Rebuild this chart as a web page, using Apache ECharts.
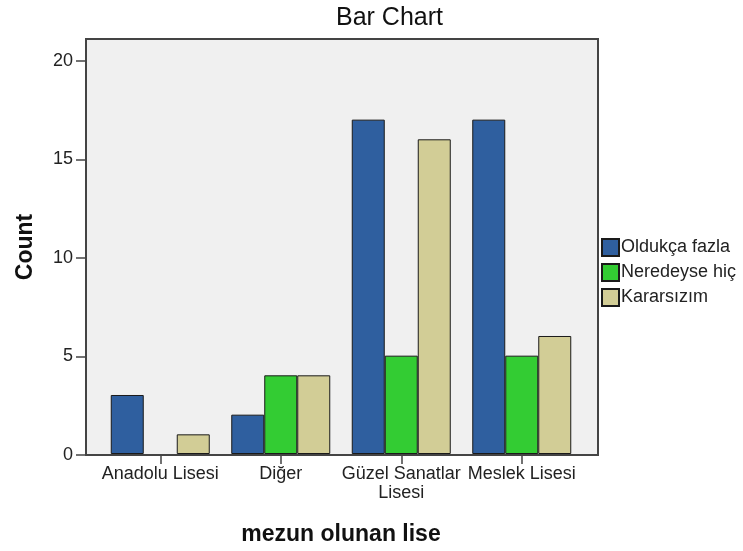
<!DOCTYPE html>
<html>
<head>
<meta charset="utf-8">
<script src="https://cdn.jsdelivr.net/npm/echarts@6/dist/echarts.min.js"></script>
<style>html,body{margin:0;padding:0;background:#fff}#c{width:743px;height:551px}</style>
</head>
<body>
<div id="c"></div>
<script>
const categories = ['Anadolu Lisesi', 'Diğer', 'Güzel Sanatlar\nLisesi', 'Meslek Lisesi'];
const seriesNames = ['Oldukça fazla', 'Neredeyse hiç', 'Kararsızım'];
const oldukcaFazla = [3, 2, 17, 17];
const neredeyseHic = [0, 4, 5, 5];
const kararsizim = [1, 4, 16, 6];
const yTicks = [0, 5, 10, 15, 20];
const colors = ['#2f5f9f', '#33cc33', '#d2cd96'];

const chart = echarts.init(document.getElementById('c'));
const font = 'Arial, "Liberation Sans", sans-serif';
const values = [oldukcaFazla, neredeyseHic, kararsizim];
chart.setOption({
  animation: false,
  backgroundColor: '#ffffff',
  title: {
    text: 'Bar Chart', left: 336, top: 6, padding: 0,
    textStyle: { fontFamily: font, fontSize: 25, fontWeight: 'normal', color: '#111' }
  },
  legend: {
    orient: 'vertical', left: 601, top: 238, padding: 0, itemWidth: 17, itemHeight: 17, itemGap: 6,
    icon: 'rect',
    textStyle: { fontFamily: font, fontSize: 18, color: '#222', padding: [0, 0, 0, -3] },
    data: seriesNames
  },
  grid: [
    { left: 86, right: 145, top: 39, bottom: 96, show: true, backgroundColor: '#f0f0f0', borderColor: '#444', borderWidth: 2 },
    { left: 100, right: 161, top: 39, bottom: 96 }
  ],
  xAxis: [
    { type: 'value', gridIndex: 0, show: false, min: 0, max: 1 },
    {
      type: 'category', gridIndex: 1, data: categories,
      axisLine: { show: false },
      axisTick: { show: true, alignWithLabel: true, length: 10, lineStyle: { color: '#444', width: 1.5 } },
      axisLabel: { fontFamily: font, fontSize: 18, color: '#222', margin: 11, lineHeight: 19, interval: 0 },
      name: 'mezun olunan lise', nameLocation: 'middle', nameGap: 69,
      nameTextStyle: { fontFamily: font, fontSize: 23, fontWeight: 'bold', color: '#111' }
    }
  ],
  yAxis: [
    {
      type: 'value', gridIndex: 0, min: 0, max: 21.1, interval: 5,
      splitLine: { show: false },
      axisLine: { show: false },
      axisTick: { show: true, length: 10, customValues: yTicks, lineStyle: { color: '#444', width: 1.5 } },
      axisLabel: { fontFamily: font, fontSize: 18, color: '#222', margin: 13, customValues: yTicks },
      name: 'Count', nameLocation: 'middle', nameGap: 49, nameRotate: 90,
      nameTextStyle: { fontFamily: font, fontSize: 23, fontWeight: 'bold', color: '#111' }
    },
    { type: 'value', gridIndex: 1, min: 0, max: 21.1, show: false }
  ],
  series: seriesNames.map((n, i) => ({
    name: n, type: 'bar', xAxisIndex: 1, yAxisIndex: 1,
    data: values[i].map(v => v === 0 ? null : v),
    barWidth: 33, barGap: '0%',
    itemStyle: { color: colors[i], borderColor: '#1a1a1a', borderWidth: 1 }
  }))
});
</script>
</body>
</html>
